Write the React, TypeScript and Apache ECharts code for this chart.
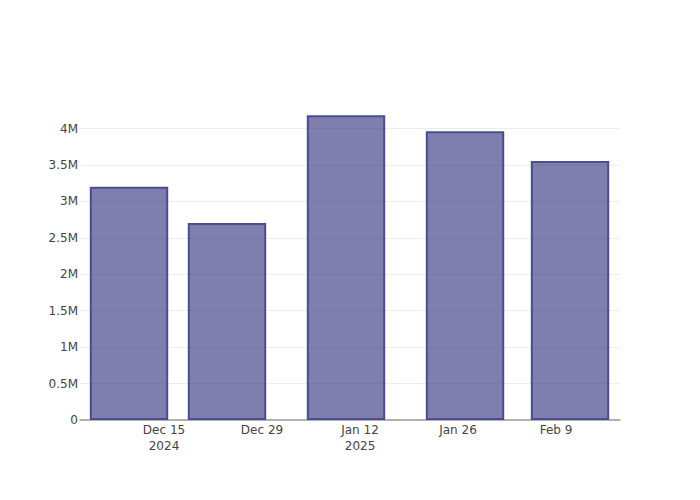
import React, { useEffect, useRef } from "react";
import * as echarts from "echarts";

// Bar dates (UTC) and values
const barDates = ["2024-12-10", "2024-12-24", "2025-01-10", "2025-01-27", "2025-02-11"];
const barValues = [3200000, 2704000, 4183000, 3963000, 3556000];

// X tick labels
const tickDates = ["2024-12-15", "2024-12-29", "2025-01-12", "2025-01-26", "2025-02-09"];
const tickLabels = ["Dec 15\n2024", "Dec 29", "Jan 12\n2025", "Jan 26", "Feb 9"];

// Axis ranges
const xRangeStart = "2024-12-03";
const xRangeEndDays = 77.14; // days after start
const yMax = 4392000;
const yInterval = 500000;
const barWidthDays = 11.2;

const toDay = (s: string) => {
  const [y, m, d] = s.split("-").map(Number);
  return Math.round(Date.UTC(y, m - 1, d) / 86400000);
};

export default function App() {
  const ref = useRef<HTMLDivElement>(null);
  useEffect(() => {
    if (!ref.current) return;
    const chart = echarts.init(ref.current, undefined, { renderer: "svg" });
    const xMin = toDay(xRangeStart);
    const xMax = xMin + xRangeEndDays;
    const plotW = 540;
    const pxPerDay = plotW / (xMax - xMin);
    const tickMap: Record<number, string> = {};
    tickDates.forEach((d, i) => (tickMap[toDay(d)] = tickLabels[i]));
    const font = "'DejaVu Sans', sans-serif";
    chart.setOption({
      animation: false,
      backgroundColor: "#ffffff",
      grid: { left: 80, right: 80, top: 100, bottom: 80, containLabel: false, outerBoundsMode: "none" },
      xAxis: {
        type: "value",
        min: xMin,
        max: xMax,
        interval: 1,
        axisLine: { show: true, lineStyle: { color: "#999999", width: 1.5 } },
        axisTick: { show: false },
        splitLine: { show: false },
        axisLabel: {
          margin: 2,
          color: "#444444",
          fontSize: 12,
          fontFamily: font,
          lineHeight: 16,
          showMinLabel: true,
          showMaxLabel: true,
          formatter: (v: number) => {
            const k = Math.round(v);
            if (Math.abs(v - k) > 1e-6) return "";
            return tickMap[k] || "";
          },
        },
      },
      yAxis: {
        type: "value",
        min: 0,
        max: yMax,
        interval: yInterval,
        axisLine: { show: false },
        axisTick: { show: false },
        splitLine: { show: true, showMaxLine: false, showMinLine: false, lineStyle: { color: "#eeeeee", width: 1 } },
        axisLabel: {
          margin: 2,
          color: "#444444",
          fontSize: 12,
          fontFamily: font,
          formatter: (v: number) => {
            if (Math.abs(v / yInterval - Math.round(v / yInterval)) > 1e-6) return "";
            return v === 0 ? "0" : `${v / 1e6}M`;
          },
        },
      },
      series: [
        {
          type: "bar",
          data: barDates.map((d, i) => [toDay(d), barValues[i]]),
          barWidth: barWidthDays * pxPerDay,
          itemStyle: {
            color: "rgba(25,25,112,0.56)",
            borderColor: "rgb(76,76,142)",
            borderWidth: 2,
          },
        },
      ],
    });
    return () => chart.dispose();
  }, []);
  return (
    <div
      ref={ref}
      style={{ position: "fixed", left: 0, top: 0, width: 700, height: 500, background: "#fff" }}
    />
  );
}
